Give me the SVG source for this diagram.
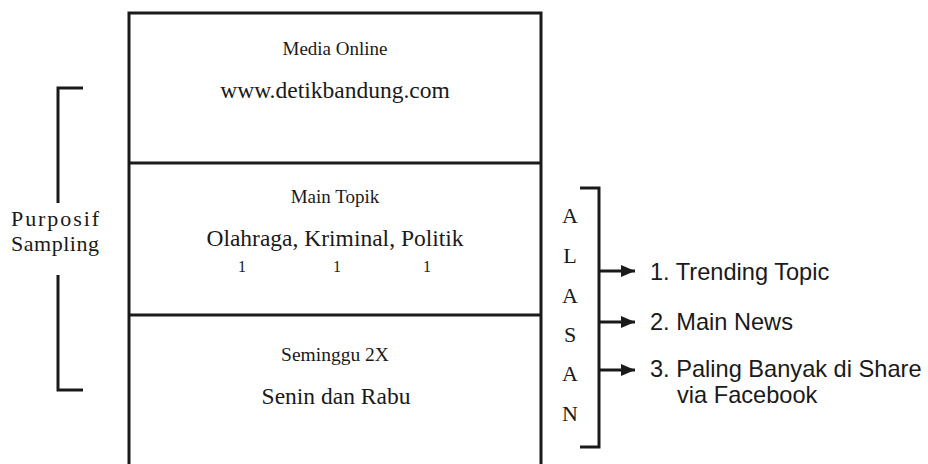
<svg xmlns="http://www.w3.org/2000/svg" width="928" height="464" viewBox="0 0 928 464">
<style>
.ln{fill:none;stroke:#1a1a1a;stroke-width:3}
.serif{font-family:"Liberation Serif","Times New Roman",serif;fill:#1a1a1a}
.sans{font-family:"Liberation Sans",Arial,sans-serif;fill:#1a1a1a}
.c{text-anchor:middle}
.al{font-size:22px}
.rs{font-size:23.6px}
</style>
<defs>
<marker id="ah" markerWidth="14" markerHeight="12" refX="14" refY="6" orient="auto" markerUnits="userSpaceOnUse">
<path d="M0,0 L14,6 L0,12 Z" fill="#1a1a1a"/>
</marker>
</defs>
<rect width="928" height="464" fill="#fff"/>
<g id="box-media">
<path class="ln" d="M129,163 V13 H541 V163"/>
<text class="serif c" x="335" y="55" font-size="19">Media Online</text>
<text class="serif c" x="335" y="98" font-size="23.5">www.detikbandung.com</text>
</g>
<g id="box-topik">
<path class="ln" d="M129,163 H541 M129,163 V315 M541,163 V315"/>
<text class="serif c" x="335" y="203" font-size="19">Main Topik</text>
<text class="serif c" x="335" y="246" font-size="23.5">Olahraga, Kriminal, Politik</text>
<text class="serif c" x="242" y="272" font-size="16">1</text>
<text class="serif c" x="337" y="272" font-size="16">1</text>
<text class="serif c" x="427" y="272" font-size="16">1</text>
</g>
<g id="box-waktu">
<path class="ln" d="M129,315 H541 M129,315 V470 M541,315 V470"/>
<text class="serif c" x="335" y="361" font-size="19.5">Seminggu 2X</text>
<text class="serif c" x="336" y="404" font-size="23.5">Senin dan Rabu</text>
</g>
<g id="purposif">
<path class="ln" d="M83,88 H58 V203 M58,275 V390 H83"/>
<text class="serif c" x="55" y="226" font-size="22" textLength="88" lengthAdjust="spacing">Purposif</text>
<text class="serif c" x="55" y="251" font-size="22" textLength="88" lengthAdjust="spacing">Sampling</text>
</g>
<g id="alasan">
<path class="ln" d="M580,188 H599 V447 H580"/>
<text class="serif c al" x="570" y="223">A</text>
<text class="serif c al" x="570" y="263">L</text>
<text class="serif c al" x="570" y="303">A</text>
<text class="serif c al" x="570" y="342">S</text>
<text class="serif c al" x="570" y="381">A</text>
<text class="serif c al" x="570" y="421">N</text>
</g>
<g id="connectors">
<line class="ln" x1="599" y1="271" x2="635" y2="271" marker-end="url(#ah)"/>
<line class="ln" x1="599" y1="322" x2="635" y2="322" marker-end="url(#ah)"/>
<line class="ln" x1="599" y1="370" x2="635" y2="370" marker-end="url(#ah)"/>
</g>
<g id="reasons">
<text class="sans rs" x="650" y="280">1. Trending Topic</text>
<text class="sans rs" x="650" y="330">2. Main News</text>
<text class="sans rs" x="650" y="377">3. Paling Banyak di Share</text>
<text class="sans rs" x="677" y="403">via Facebook</text>
</g>
</svg>
